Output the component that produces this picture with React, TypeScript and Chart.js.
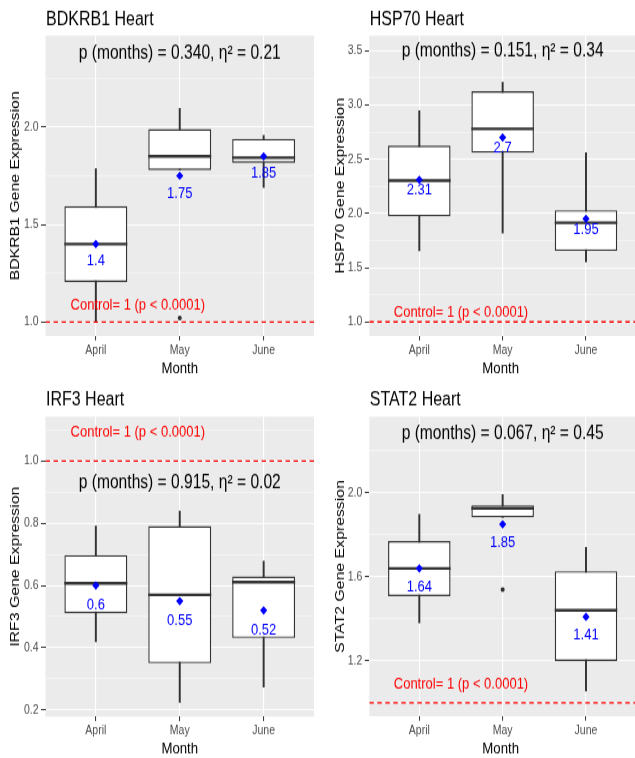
import React, { useEffect, useRef } from 'react';
import { Chart, registerables } from 'chart.js';

Chart.register(...registerables);

// ---------- data ----------
const months = ['April', 'May', 'June'];
const xPositions = [1, 2, 3];
const xRange = [0.4, 3.6];
const controlValue = 1;
const controlLabel = 'Control= 1 (p < 0.0001)';

const panelTitles = ['BDKRB1 Heart', 'HSP70 Heart', 'IRF3 Heart', 'STAT2 Heart'];
const yAxisTitles = ['BDKRB1 Gene Expression', 'HSP70 Gene Expression', 'IRF3 Gene Expression', 'STAT2 Gene Expression'];
const xAxisTitle = 'Month';
const pTexts = [
  'p (months) = 0.340, η² = 0.21',
  'p (months) = 0.151, η² = 0.34',
  'p (months) = 0.915, η² = 0.02',
  'p (months) = 0.067, η² = 0.45',
];
const pTextY = [2.38, 3.49, 0.93, 2.28];
const controlTextY = [1.087, 1.083, 1.091, 1.089];
const meanLabelNudge = [0.089, 0.099, 0.064, 0.088];

const yMins = [0.928, 0.87, 0.178, 0.937];
const yMaxs = [2.47, 3.64, 1.143, 2.362];
const yMajorTicks = [
  [1.0, 1.5, 2.0],
  [1.0, 1.5, 2.0, 2.5, 3.0, 3.5],
  [0.2, 0.4, 0.6, 0.8, 1.0],
  [1.2, 1.6, 2.0],
];
const yMinorTicks = [
  [1.25, 1.75, 2.25],
  [1.25, 1.75, 2.25, 2.75, 3.25],
  [0.3, 0.5, 0.7, 0.9, 1.1],
  [1.0, 1.4, 1.8, 2.2],
];

// BDKRB1
const bdkrb1Low = [1.0, 1.78, 1.69];
const bdkrb1Q1 = [1.205, 1.78, 1.817];
const bdkrb1Median = [1.4, 1.85, 1.843];
const bdkrb1Q3 = [1.594, 1.99, 1.94];
const bdkrb1High = [1.786, 2.096, 1.957];
const bdkrb1Mean = [1.4, 1.75, 1.85];
const bdkrb1Outliers = [null, 1.02, null];

// HSP70
const hsp70Low = [1.655, 1.82, 1.555];
const hsp70Q1 = [1.973, 2.559, 1.655];
const hsp70Median = [2.302, 2.78, 1.914];
const hsp70Q3 = [2.626, 3.126, 2.03];
const hsp70High = [2.947, 3.209, 2.56];
const hsp70Mean = [2.31, 2.7, 1.95];
const hsp70Outliers = [null, null, null];

// IRF3
const irf3Low = [0.419, 0.224, 0.273];
const irf3Q1 = [0.511, 0.35, 0.431];
const irf3Median = [0.607, 0.57, 0.611];
const irf3Q3 = [0.698, 0.791, 0.629];
const irf3High = [0.791, 0.839, 0.678];
const irf3Mean = [0.6, 0.55, 0.52];
const irf3Outliers = [null, null, null];

// STAT2
const stat2Low = [1.381, 1.883, 1.057];
const stat2Q1 = [1.508, 1.883, 1.2];
const stat2Median = [1.64, 1.926, 1.441];
const stat2Q3 = [1.77, 1.941, 1.627];
const stat2High = [1.897, 1.992, 1.74];
const stat2Mean = [1.64, 1.85, 1.41];
const stat2Outliers = [null, 1.54, null];

const lows = [bdkrb1Low, hsp70Low, irf3Low, stat2Low];
const q1s = [bdkrb1Q1, hsp70Q1, irf3Q1, stat2Q1];
const medians = [bdkrb1Median, hsp70Median, irf3Median, stat2Median];
const q3s = [bdkrb1Q3, hsp70Q3, irf3Q3, stat2Q3];
const highs = [bdkrb1High, hsp70High, irf3High, stat2High];
const means = [bdkrb1Mean, hsp70Mean, irf3Mean, stat2Mean];
const outliers = [bdkrb1Outliers, hsp70Outliers, irf3Outliers, stat2Outliers];

// ---------- layout / style ----------
const SY = 1.2; // vertical stretch of the reference picture
const FONT = "'Liberation Sans', Arial, Helvetica, sans-serif";
const DARK = '#333333';

type Geo = {
  x: number; y: number; w: number; h: number;
  areaLeft: number; areaRight: number; areaTop: number; areaBottom: number;
  yTitleX: number; titleY: number; xTitleY: number;
};

const geos: Geo[] = [
  { x: 0, y: 0, w: 318, h: 316, areaLeft: 45.5, areaRight: 317.5, areaTop: 29.6, areaBottom: 280, yTitleX: 15, titleY: 16.7, xTitleY: 307.2 },
  { x: 317, y: 0, w: 323, h: 316, areaLeft: 52.3, areaRight: 323, areaTop: 29.6, areaBottom: 280, yTitleX: 23, titleY: 16.7, xTitleY: 307.2 },
  { x: 0, y: 379, w: 318, h: 316, areaLeft: 45.5, areaRight: 317.5, areaTop: 31.4, areaBottom: 281.4, yTitleX: 15, titleY: 17.5, xTitleY: 308.2 },
  { x: 317, y: 379, w: 323, h: 316, areaLeft: 52.3, areaRight: 323, areaTop: 31.4, areaBottom: 281, yTitleX: 23, titleY: 17.5, xTitleY: 308.2 },
];

function fmtMean(v: number) {
  return String(Math.round(v * 100) / 100);
}

function drawText(ctx: CanvasRenderingContext2D, s: string, x: number, y: number, font: string, color: string, align: CanvasTextAlign = 'center') {
  ctx.save();
  ctx.font = font;
  ctx.fillStyle = color;
  ctx.textAlign = align;
  ctx.textBaseline = 'middle';
  ctx.fillText(s, x, y);
  ctx.restore();
}

function makePlugin(i: number, g: Geo) {
  return {
    id: 'ggExtras' + i,
    beforeDraw(chart: any) {
      const { ctx, chartArea: a } = chart;
      ctx.save();
      ctx.fillStyle = '#EBEBEB';
      ctx.fillRect(a.left, a.top, a.right - a.left, a.bottom - a.top);
      ctx.restore();
    },
    beforeDatasetDraw(chart: any, args: any) {
      if (args.index !== 0) return;
      // median lines, drawn just before the mean diamonds
      const ctx = chart.ctx;
      const yS = chart.scales.y;
      const boxMeta = chart.getDatasetMeta(3);
      ctx.save();
      ctx.strokeStyle = DARK;
      ctx.lineWidth = 2.4;
      medians[i].forEach((m, k) => {
        const el = boxMeta.data[k];
        if (!el) return;
        const yp = yS.getPixelForValue(m);
        ctx.beginPath();
        ctx.moveTo(el.x - el.width / 2, yp);
        ctx.lineTo(el.x + el.width / 2, yp);
        ctx.stroke();
      });
      ctx.restore();
    },
    afterDatasetsDraw(chart: any) {
      const ctx = chart.ctx;
      const xS = chart.scales.x;
      const yS = chart.scales.y;
      means[i].forEach((m, k) => {
        drawText(ctx, fmtMean(m), xS.getPixelForValue(xPositions[k]), yS.getPixelForValue(m - meanLabelNudge[i]), `13px ${FONT}`, '#0000FF');
      });
      drawText(ctx, pTexts[i], xS.getPixelForValue(2), yS.getPixelForValue(pTextY[i]), `15.6px ${FONT}`, '#000000');
      drawText(ctx, controlLabel, xS.getPixelForValue(1.5), yS.getPixelForValue(controlTextY[i]), `13px ${FONT}`, '#FF0000');
    },
    afterDraw(chart: any) {
      const ctx = chart.ctx;
      const a = chart.chartArea;
      drawText(ctx, panelTitles[i], a.left + 0.5, g.titleY, `16px ${FONT}`, '#000000', 'left');
      drawText(ctx, xAxisTitle, (a.left + a.right) / 2 - (i % 2 === 1 ? 2 : 0), g.xTitleY, `13.2px ${FONT}`, '#000000');
      ctx.save();
      ctx.translate(g.yTitleX, (a.top + a.bottom) / 2);
      ctx.rotate(-Math.PI / 2);
      drawText(ctx, yAxisTitles[i], 0, 0, `13.2px ${FONT}`, '#000000');
      ctx.restore();
    },
  };
}

function buildConfig(i: number, g: Geo): any {
  const major = yMajorTicks[i];
  const isMajor = (v: number) => major.some((m) => Math.abs(m - v) < 1e-9);
  const yTicks = [...major, ...yMinorTicks[i]].sort((a, b) => a - b);
  const outlierPts = outliers[i]
    .map((v, k) => (v == null ? null : { x: xPositions[k], y: v }))
    .filter((p) => p !== null);

  return {
    type: 'bar',
    data: {
      datasets: [
        {
          type: 'line', label: 'mean', order: 0,
          data: means[i].map((v, k) => ({ x: xPositions[k], y: v })),
          showLine: false, pointStyle: 'rectRot', pointRadius: 3.6,
          pointBackgroundColor: '#0000FF', pointBorderColor: '#0000FF', pointBorderWidth: 0,
        },
        {
          type: 'line', label: 'outliers', order: 1,
          data: outlierPts,
          showLine: false, pointRadius: 2, pointBackgroundColor: DARK, pointBorderColor: DARK, pointBorderWidth: 0,
        },
        {
          type: 'line', label: 'control', order: 2,
          data: xRange.map((x) => ({ x, y: controlValue })),
          borderColor: '#FF0000', borderWidth: 1.3, borderDash: [4.5, 3.5], pointRadius: 0,
        },
        {
          type: 'bar', label: 'box', order: 3,
          data: q1s[i].map((v, k) => ({ x: xPositions[k], y: [v, q3s[i][k]] })),
          backgroundColor: '#FFFFFF', borderColor: DARK, borderWidth: 1.4, borderSkipped: false,
          barPercentage: 0.75, categoryPercentage: 1,
        },
        {
          type: 'bar', label: 'whisker', order: 4, grouped: false,
          data: lows[i].map((v, k) => ({ x: xPositions[k], y: [v, highs[i][k]] })),
          backgroundColor: DARK, barThickness: 1.3,
        },
      ],
    },
    options: {
      responsive: false,
      animation: false,
      events: [],
      layout: { padding: { left: 0, top: g.areaTop, right: g.w - g.areaRight, bottom: 0 } },
      plugins: { legend: { display: false }, tooltip: { enabled: false }, title: { display: false } },
      scales: {
        x: {
          type: 'linear', min: xRange[0], max: xRange[1], offset: false, bounds: 'data',
          afterBuildTicks: (sc: any) => { sc.ticks = xPositions.map((v) => ({ value: v })); },
          afterFit: (sc: any) => { sc.height = g.h - g.areaBottom; },
          ticks: {
            autoSkip: false, maxRotation: 0, padding: 2, color: '#4D4D4D',
            font: { family: FONT, size: 10.5 },
            callback: (v: number) => months[xPositions.indexOf(v)] ?? '',
          },
          grid: { color: '#FFFFFF', lineWidth: 1.1, tickColor: DARK, tickLength: 3.7, tickWidth: 1, offset: false },
          border: { display: false },
        },
        y: {
          type: 'linear', min: yMins[i], max: yMaxs[i], bounds: 'data', beginAtZero: false,
          afterBuildTicks: (sc: any) => { sc.ticks = yTicks.map((v) => ({ value: v })); },
          afterFit: (sc: any) => { sc.width = g.areaLeft; },
          ticks: {
            autoSkip: false, padding: 2.5, color: '#4D4D4D',
            font: { family: FONT, size: 10.5 },
            callback: (v: number) => (isMajor(v) ? v.toFixed(1) : ''),
          },
          grid: {
            color: '#FFFFFF',
            lineWidth: (c: any) => (c.tick && isMajor(c.tick.value) ? 1 : 0.5),
            tickColor: (c: any) => (c.tick && isMajor(c.tick.value) ? DARK : 'rgba(0,0,0,0)'),
            tickLength: 4.5, tickWidth: 1,
          },
          border: { display: false },
        },
      },
    },
    plugins: [makePlugin(i, g)],
  };
}

function Panel({ index }: { index: number }) {
  const ref = useRef<HTMLCanvasElement | null>(null);
  const g = geos[index];
  useEffect(() => {
    const canvas = ref.current;
    if (!canvas) return;
    const chart = new Chart(canvas, buildConfig(index, g));
    return () => chart.destroy();
  }, [index]);
  return (
    <div
      style={{
        position: 'absolute', left: g.x, top: g.y, width: g.w, height: g.h,
        transform: `scaleY(${SY})`, transformOrigin: '0 0',
      }}
    >
      <canvas ref={ref} width={g.w} height={g.h} style={{ display: 'block', width: g.w, height: g.h }} />
    </div>
  );
}

export default function App() {
  return (
    <div
      style={{
        position: 'absolute', left: 0, top: 0, width: 635, height: 758,
        overflow: 'hidden', background: '#FFFFFF',
      }}
    >
      {[0, 1, 2, 3].map((i) => (
        <Panel key={i} index={i} />
      ))}
    </div>
  );
}
